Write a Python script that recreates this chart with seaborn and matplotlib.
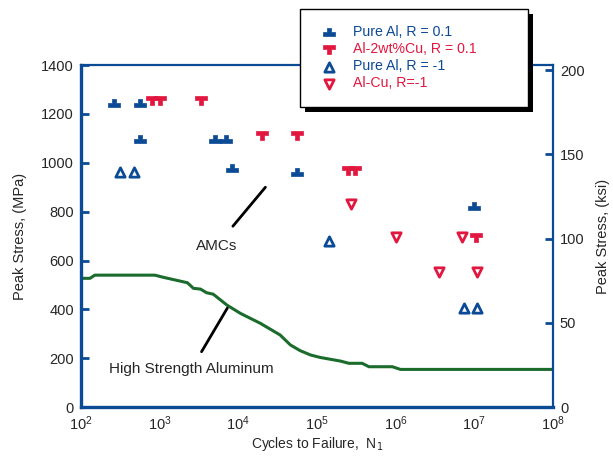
import matplotlib
matplotlib.use("Agg")
import matplotlib.pyplot as plt
from matplotlib.path import Path
from matplotlib.patches import Rectangle
from matplotlib.ticker import NullFormatter
import seaborn as sns
import pandas as pd

# ==========================================
# 1. DATA
# ==========================================
# High strength aluminium S-N curve
hsa_cycles = [100, 130, 150, 870, 1120, 2250, 2690, 3300, 3950, 4800, 7200, 10700,
              19000, 34000, 46000, 61000, 83000, 110000, 200000, 254000, 376000,
              457000, 910000, 1.15e6, 1e8]
hsa_stress = [527, 527, 540, 540, 531, 509, 486, 483, 468, 462, 417, 383,
              343, 295, 254, 231, 213, 203, 188, 179, 179,
              165, 165, 154, 154]

# AMC test points (cycles, MPa)
pure_r01_cycles = [260, 560, 560, 5000, 7000, 8300, 56000, 1.0e7]
pure_r01_stress = [1244, 1244, 1097, 1097, 1097, 978, 962, 823]

alcu_r01_cycles = [800, 1000, 3400, 20000, 56000, 250000, 300000, 1.05e7]
alcu_r01_stress = [1257, 1257, 1257, 1113, 1113, 970, 970, 696]

pure_rm1_cycles = [315, 475, 1.44e5, 7.4e6, 1.07e7]
pure_rm1_stress = [962, 962, 680, 405, 405]

alcu_rm1_cycles = [2.7e5, 1.0e6, 3.6e6, 7.0e6, 1.07e7]
alcu_rm1_stress = [831, 696, 553, 696, 553]

labels = ["Pure Al, R = 0.1", "Al-2wt%Cu, R = 0.1", "Pure Al, R = -1", "Al-Cu, R=-1"]

BLUE = "#0b4a94"
RED = "#e2173f"
GREEN = "#1b6b2c"
MPA_PER_KSI = 6.895

# custom marker shapes
pedestal = Path([(-1, -0.6), (1, -0.6), (1, 0), (0.35, 0), (0.35, 0.6),
                 (-0.35, 0.6), (-0.35, 0), (-1, 0), (-1, -0.6)], closed=True)
tee = Path([(-1, 0.6), (1, 0.6), (1, 0), (0.3, 0), (0.3, -0.8),
            (-0.3, -0.8), (-0.3, 0), (-1, 0), (-1, 0.6)], closed=True)

# ==========================================
# 2. PLOTTING
# ==========================================
sns.set_theme(style="white")
plt.rcParams["font.family"] = ["Liberation Sans", "DejaVu Sans"]

fig = plt.figure(figsize=(6.13, 4.62), dpi=100)
ax = fig.add_axes([0.1321, 0.119, 0.7700, 0.740])

line_df = pd.DataFrame({"cycles": hsa_cycles, "stress": hsa_stress})
sns.lineplot(data=line_df, x="cycles", y="stress", color=GREEN, linewidth=2.2,
             estimator=None, sort=False, ax=ax, legend=False)

series = [
    (pure_r01_cycles, pure_r01_stress, pedestal, BLUE, BLUE, 0.5, 75),
    (alcu_r01_cycles, alcu_r01_stress, tee, RED, RED, 0.5, 85),
    (pure_rm1_cycles, pure_rm1_stress, "^", "white", BLUE, 2.0, 45),
    (alcu_rm1_cycles, alcu_rm1_stress, "v", "white", RED, 2.0, 45),
]
for (xs, ys, mk, fc, ec, lw, sz), lab in zip(series, labels):
    df = pd.DataFrame({"cycles": xs, "stress": ys})
    sns.scatterplot(data=df, x="cycles", y="stress", marker=mk, s=sz,
                    facecolor=fc, edgecolor=ec, linewidth=lw, ax=ax,
                    label=lab, zorder=3, legend=False)

ax.set_xscale("log")
ax.set_xlim(1e2, 1e8)
ax.set_ylim(0, 1400)
ax.set_yticks(range(0, 1401, 200))
ax.xaxis.set_minor_formatter(NullFormatter())
ax.set_xlabel("Cycles to Failure,  N$_1$", fontsize=10, labelpad=2)
ax.set_ylabel("Peak Stress, (MPa)", fontsize=10.5, labelpad=10)

for sp in ax.spines.values():
    sp.set_color(BLUE)
    sp.set_linewidth(2.4)
ax.spines["right"].set_linewidth(1.6)
ax.spines["top"].set_linewidth(1.6)
ax.tick_params(axis="both", which="major", direction="in", length=6, width=2,
               color=BLUE, labelsize=10.5, pad=5)
ax.tick_params(axis="x", which="minor", direction="inout", length=4, width=1.5,
               color=BLUE)

# right axis in ksi
ax2 = ax.twinx()
ax2.set_ylim(0, 1400 / MPA_PER_KSI)
ax2.set_yticks([0, 50, 100, 150, 200])
ax2.set_ylabel("Peak Stress, (ksi)", fontsize=10.5, labelpad=8)
for sp in ax2.spines.values():
    sp.set_visible(False)
ax2.tick_params(axis="y", direction="in", length=6, width=2, color=BLUE,
                labelsize=10.5, pad=5)
ax2.grid(False)

# annotations
ax.annotate("AMCs", xy=(22100, 900), xytext=(5250, 659), fontsize=11,
            ha="center", va="center",
            arrowprops=dict(arrowstyle="-", color="black", lw=2, shrinkA=9, shrinkB=0))
ax.annotate("High Strength Aluminum", xy=(7250, 405), xytext=(2520, 155),
            fontsize=11, ha="center", va="center",
            arrowprops=dict(arrowstyle="-", color="black", lw=2, shrinkA=6, shrinkB=0))

# legend box with a solid black shadow, drawn in figure pixels
W, H = 613, 462
fig.patches.append(Rectangle((305 / W, 1 - 112 / H), 228 / W, 98 / H,
                             transform=fig.transFigure, facecolor="black",
                             edgecolor="none", zorder=2))
fig.patches.append(Rectangle((300 / W, 1 - 107 / H), 228 / W, 98 / H,
                             transform=fig.transFigure, facecolor="white",
                             edgecolor="black", linewidth=1.0, zorder=3))

handles, _ = ax.get_legend_handles_labels()
leg = fig.legend(handles, labels, loc="upper left",
                 bbox_to_anchor=(318 / W, 1 - 25 / H),
                 frameon=False, fontsize=10.2, handletextpad=0.9,
                 borderpad=0, labelspacing=0.22, handlelength=1.6,
                 borderaxespad=0)
leg.set_zorder(5)
for txt, col in zip(leg.get_texts(), [BLUE, RED, BLUE, RED]):
    txt.set_color(col)

plt.savefig("out.png", dpi=100)
